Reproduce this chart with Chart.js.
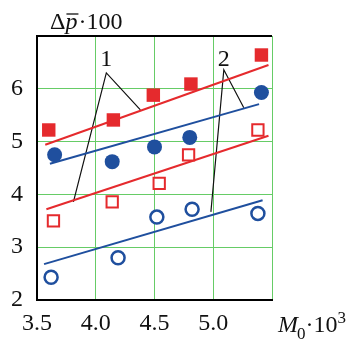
<!DOCTYPE html>
<html>
<head>
<meta charset="utf-8">
<script src="https://cdn.jsdelivr.net/npm/chart.js@4.4.1/dist/chart.umd.min.js"></script>
<style>
  html, body { margin: 0; padding: 0; background: #fff; }
  #wrap { width: 346px; height: 341px; }
</style>
</head>
<body>
<div id="wrap"><canvas id="grafico"></canvas></div>
<script>
// -------------------------
// Dados
// -------------------------
const xTicks = [3.5, 4.0, 4.5, 5.0, 5.5];
const yTicks = [2, 3, 4, 5, 6, 7];

// pontos cheios / vazios
const redFilledX  = [3.60, 4.15, 4.49, 4.81, 5.41];
const redFilledY  = [5.22, 5.41, 5.88, 6.09, 6.64];
const blueFilledX = [3.65, 4.14, 4.50, 4.80, 5.41];
const blueFilledY = [4.75, 4.62, 4.90, 5.08, 5.93];
const redOpenX    = [3.64, 4.14, 4.54, 4.79, 5.38];
const redOpenY    = [3.50, 3.86, 4.21, 4.75, 5.22];
const blueOpenX   = [3.62, 4.19, 4.52, 4.82, 5.38];
const blueOpenY   = [2.43, 2.80, 3.57, 3.72, 3.64];

// retas ajustadas
const redUpperX  = [3.57, 5.47];
const redUpperY  = [4.94, 6.45];
const blueUpperX = [3.61, 5.39];
const blueUpperY = [4.58, 5.71];
const redLowerX  = [3.58, 5.47];
const redLowerY  = [3.72, 5.11];
const blueLowerX = [3.56, 5.42];
const blueLowerY = [2.68, 3.89];

// linhas de chamada "1" e "2"
const leader1X = [4.38, 4.09, 3.81];
const leader1Y = [5.60, 6.30, 3.86];
const leader2X = [5.26, 5.09, 4.98];
const leader2Y = [5.64, 6.36, 3.67];
const calloutLabels = ["1", "2"];
const calloutX = [4.09, 5.09];
const calloutY = [6.55, 6.55];

const RED = "#e52a2d";
const BLUE = "#1f4f9e";
const GREEN = "#66cc66";
const FONT = "'Liberation Serif', 'DejaVu Serif', serif";

function pts(xs, ys) {
  return xs.map((x, i) => ({ x: x, y: ys[i] }));
}

// -------------------------
// Textos extras
// -------------------------
const textosPlugin = {
  id: "textos",
  afterDraw(chart) {
    const ctx = chart.ctx;
    const area = chart.chartArea;
    const sx = chart.scales.x, sy = chart.scales.y;
    ctx.save();

    // borda superior preta
    ctx.strokeStyle = "#000";
    ctx.lineWidth = 2;
    ctx.beginPath();
    ctx.moveTo(area.left - 1, area.top);
    ctx.lineTo(area.right, area.top);
    ctx.stroke();

    ctx.fillStyle = "#111";
    ctx.textBaseline = "alphabetic";
    ctx.textAlign = "left";

    // rótulos 1 e 2
    ctx.font = "24px " + FONT;
    ctx.textAlign = "center";
    ctx.textBaseline = "middle";
    calloutLabels.forEach((t, i) => {
      ctx.fillText(t, sx.getPixelForValue(calloutX[i]), sy.getPixelForValue(calloutY[i]));
    });

    // título eixo y: Δp̄·100
    ctx.textAlign = "left";
    ctx.textBaseline = "alphabetic";
    let x = 50;
    const by = 29;
    ctx.font = "24px " + FONT;
    ctx.fillText("Δ", x, by);
    x += ctx.measureText("Δ").width;
    ctx.font = "italic 24px " + FONT;
    const wp = ctx.measureText("p").width;
    ctx.fillText("p", x, by);
    ctx.strokeStyle = "#111";
    ctx.lineWidth = 1.3;
    ctx.beginPath();
    ctx.moveTo(x + 1, by - 15);
    ctx.lineTo(x + wp + 1, by - 15);
    ctx.stroke();
    x += wp + 1;
    ctx.font = "24px " + FONT;
    ctx.fillText("·100", x, by);

    // título eixo x: M0·10³
    x = 278;
    const bx = 332;
    ctx.font = "italic 24px " + FONT;
    ctx.fillText("M", x, bx);
    x += ctx.measureText("M").width;
    ctx.font = "17px " + FONT;
    ctx.fillText("0", x - 1, bx + 7);
    x += ctx.measureText("0").width - 1;
    ctx.font = "24px " + FONT;
    ctx.fillText("·10", x, bx);
    x += ctx.measureText("·10").width;
    ctx.font = "17px " + FONT;
    ctx.fillText("3", x, bx - 9);

    ctx.restore();
  }
};

// -------------------------
// Gráfico
// -------------------------
const lineDs = (xs, ys, color, width) => ({
  data: pts(xs, ys),
  showLine: true,
  borderColor: color,
  borderWidth: width,
  pointRadius: 0,
  fill: false
});

new Chart(document.getElementById("grafico"), {
  type: "scatter",
  data: {
    datasets: [
      { data: pts(redFilledX, redFilledY), pointStyle: "rect", pointRadius: 9.5,
        pointBackgroundColor: RED, pointBorderColor: RED, pointBorderWidth: 0 },
      { data: pts(blueFilledX, blueFilledY), pointStyle: "circle", pointRadius: 7.5,
        pointBackgroundColor: BLUE, pointBorderColor: BLUE, pointBorderWidth: 0 },
      { data: pts(redOpenX, redOpenY), pointStyle: "rect", pointRadius: 8,
        pointBackgroundColor: "#fff", pointBorderColor: RED, pointBorderWidth: 2 },
      { data: pts(blueOpenX, blueOpenY), pointStyle: "circle", pointRadius: 6.5,
        pointBackgroundColor: "#fff", pointBorderColor: BLUE, pointBorderWidth: 2.5 },
      lineDs(redUpperX, redUpperY, RED, 2),
      lineDs(blueUpperX, blueUpperY, BLUE, 2),
      lineDs(redLowerX, redLowerY, RED, 2),
      lineDs(blueLowerX, blueLowerY, BLUE, 2),
      lineDs(leader1X, leader1Y, "#111", 1.2),
      lineDs(leader2X, leader2Y, "#111", 1.2)
    ]
  },
  options: {
    responsive: true,
    maintainAspectRatio: false,
    animation: false,
    events: [],
    layout: { padding: { top: 36, right: 74, left: 0, bottom: 0 } },
    plugins: { legend: { display: false }, tooltip: { enabled: false } },
    scales: {
      x: {
        type: "linear",
        min: xTicks[0],
        max: xTicks[xTicks.length - 1],
        afterBuildTicks: s => { s.ticks = xTicks.map(v => ({ value: v })); },
        afterFit: s => { s.height = 41; },
        border: { color: "#000", width: 2 },
        grid: { color: GREEN, lineWidth: 1, drawTicks: false },
        ticks: {
          padding: 9,
          color: "#111",
          font: { family: FONT, size: 24 },
          maxRotation: 0,
          autoSkip: false,
          callback: v => (v === 5.5 ? "" : v.toFixed(1))
        }
      },
      y: {
        type: "linear",
        min: yTicks[0],
        max: yTicks[yTicks.length - 1],
        afterBuildTicks: s => { s.ticks = yTicks.map(v => ({ value: v })); },
        afterFit: s => { s.width = 37; },
        border: { color: "#000", width: 2 },
        grid: { color: GREEN, lineWidth: 1, drawTicks: false },
        ticks: {
          padding: 14,
          color: "#111",
          font: { family: FONT, size: 24 },
          autoSkip: false,
          callback: v => (v === 7 ? "" : String(v))
        }
      }
    }
  },
  plugins: [textosPlugin]
});
</script>
</body>
</html>
